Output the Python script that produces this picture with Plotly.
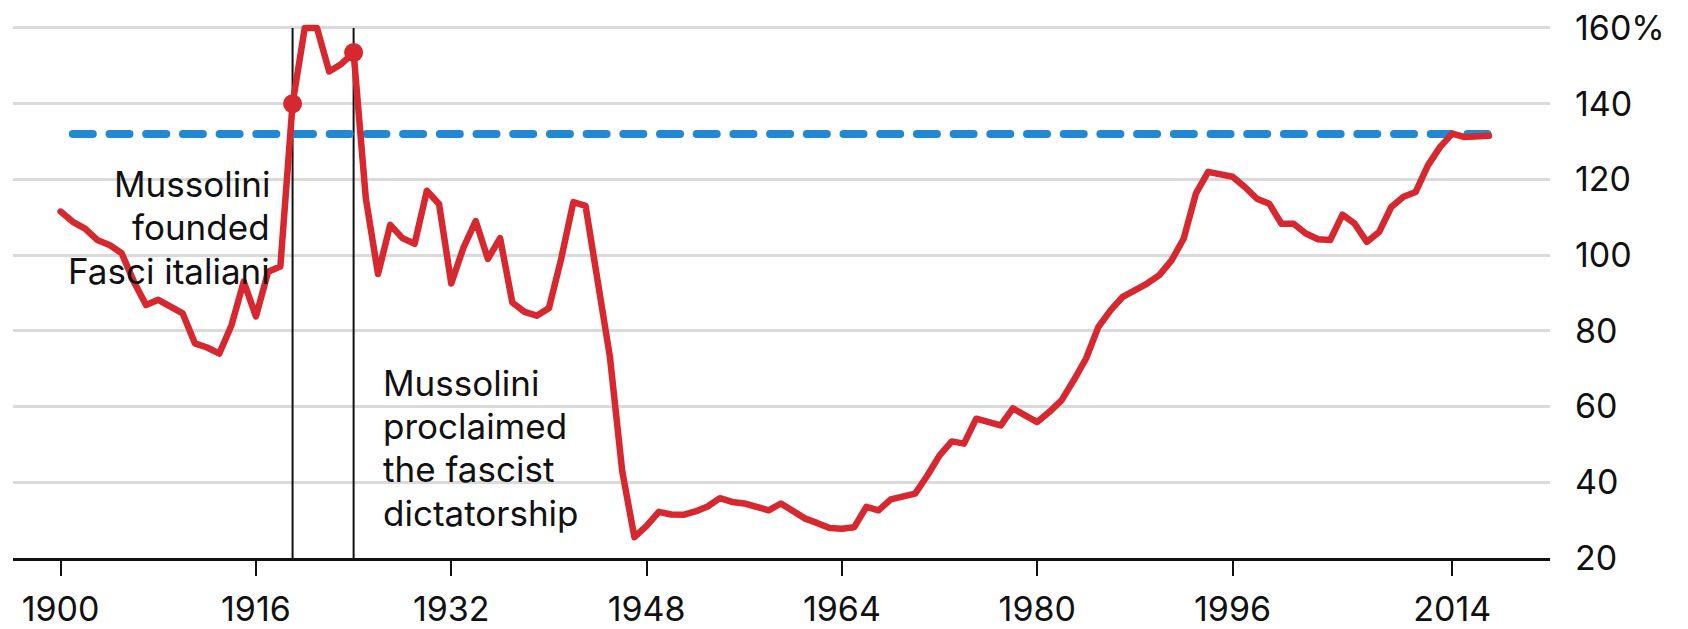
import plotly.graph_objects as go

# ---- data -------------------------------------------------------------
years = list(range(1900, 2018))
debt_ratio = [
    111.5, 108.8, 107, 104, 102.7, 100.5, 93, 86.8, 88.2, 86.4,   # 1900-1909
    84.6, 76.7, 75.6, 74, 81.5, 93, 83.8, 95.6, 97, 140,          # 1910-1919
    160, 160, 148.5, 150.5, 153.5, 115, 95, 108, 104.5, 103,      # 1920-1929
    117, 113.5, 92.5, 102, 109, 99, 104.5, 87.5, 85, 84,          # 1930-1939
    86, 99, 114, 113, 93, 73, 43, 25.5, 28.5, 32.2,               # 1940-1949
    31.5, 31.4, 32.3, 33.6, 35.8, 34.8, 34.4, 33.5, 32.6, 34.4,   # 1950-1959
    32.4, 30.4, 29.2, 27.9, 27.7, 28.1, 33.5, 32.6, 35.5, 36.3,   # 1960-1969
    37, 41.8, 47.1, 50.8, 50.2, 56.8, 55.9, 55, 59.5, 57.9,       # 1970-1979
    55.9, 58.6, 61.7, 67, 72.7, 81, 85.4, 89, 90.7, 92.5,         # 1980-1989
    94.7, 98.6, 104.4, 116.3, 122, 121.3, 120.7, 118, 114.9, 113.6,  # 1990-1999
    108.3, 108.3, 105.7, 104.2, 104, 110.7, 108.3, 103.5, 106.1, 112.7,  # 2000-2009
    115.4, 116.7, 123.7, 128.6, 132.1, 131.2, 131.2, 131.5,       # 2010-2017
]
event_years = [1919, 1924]
event_lines = [
    ["Mussolini", "founded", "Fasci italiani"],
    ["Mussolini", "proclaimed", "the fascist", "dictatorship"],
]
current_level = 132
level_years = [1901, 2017.7]
x_ticks = [1900, 1916, 1932, 1948, 1964, 1980, 1996, 2014]
y_ticks = [20, 40, 60, 80, 100, 120, 140, 160]
y_tick_labels = ["20", "40", "60", "80", "100", "120", "140", "160%"]

# ---- style ------------------------------------------------------------
RED = "#d6282e"
BLUE = "#2189d3"
INK = "#111111"
FONT = "Inter"
FS = 34
AFS = 35
LINE_PX = 43.3

fig = go.Figure()

fig.add_trace(go.Scatter(
    x=level_years, y=[current_level] * len(level_years), mode="lines",
    line=dict(color=BLUE, width=8, dash="20px,16.7px"),
    hoverinfo="skip", cliponaxis=False,
))

fig.add_trace(go.Scatter(
    x=years, y=debt_ratio, mode="lines",
    line=dict(color=RED, width=6.5),
    cliponaxis=False,
))

ev_vals = [debt_ratio[years.index(y)] for y in event_years]
fig.add_trace(go.Scatter(
    x=event_years, y=ev_vals, mode="markers",
    marker=dict(color=RED, size=19),
    cliponaxis=False,
))

for ey in event_years:
    fig.add_shape(type="line", x0=ey, x1=ey, y0=20, y1=160,
                  xref="x", yref="y", layer="between",
                  line=dict(color=INK, width=2))

# annotation blocks (one annotation per text line for exact line spacing)
blocks = [
    dict(lines=event_lines[0], x=1917.35, y=118.8, anchor="right"),
    dict(lines=event_lines[1], x=1926.25, y=66.3, anchor="left"),
]
for b in blocks:
    for i, txt in enumerate(b["lines"]):
        fig.add_annotation(
            x=b["x"], y=b["y"], xref="x", yref="y", text=txt,
            showarrow=False, xanchor=b["anchor"], yanchor="middle",
            yshift=-LINE_PX * i,
            font=dict(family=FONT, size=AFS, color=INK),
        )

fig.update_layout(
    width=1688, height=629,
    margin=dict(l=13, r=138, t=24, b=71),
    paper_bgcolor="white", plot_bgcolor="white",
    showlegend=False,
    font=dict(family=FONT, size=FS, color=INK),
    xaxis=dict(
        range=[1896.1, 2022], tickmode="array", tickvals=x_ticks,
        ticks="outside", ticklen=15, tickwidth=2, tickcolor=INK,
        showline=True, linecolor=INK, linewidth=3,
        showgrid=False, zeroline=False, automargin=False,
        ticklabelstandoff=4,
        tickfont=dict(family=FONT, size=FS, color=INK),
    ),
    yaxis=dict(
        side="right", range=[20, 161.05], tickmode="array",
        tickvals=y_ticks, ticktext=y_tick_labels,
        showgrid=True, gridcolor="#dadada", gridwidth=3,
        zeroline=False, showline=False, ticks="", automargin=False,
        ticklabelstandoff=24,
        tickfont=dict(family=FONT, size=FS, color=INK),
    ),
)

post = (
    "document.body.style.margin='0';"
    "document.body.style.overflow='hidden';"
    "try{var p=document.querySelectorAll('.scatterlayer .trace')[0]"
    ".querySelector('path.js-line');"
    "p.style.strokeLinecap='round';}catch(e){}"
    "try{var q=document.querySelectorAll('.scatterlayer .trace')[1]"
    ".querySelector('path.js-line');"
    "q.style.strokeLinejoin='round';q.style.strokeLinecap='round';}catch(e){}"
)

fig.write_html(
    "out.html",
    config={"displayModeBar": False},
    post_script=post,
)
